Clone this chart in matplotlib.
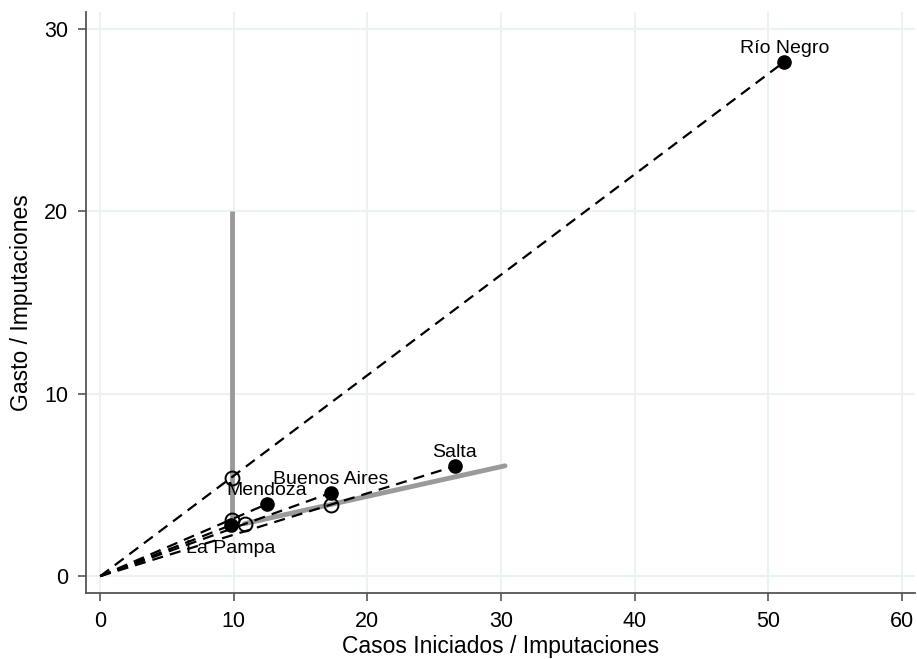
import matplotlib
matplotlib.use("Agg")
import matplotlib.pyplot as plt
import numpy as np

plt.rcParams['font.family'] = ['Liberation Sans', 'DejaVu Sans']

# provincias observadas (x = casos iniciados / imputaciones, y = gasto / imputaciones)
provincias = ['Río Negro', 'Salta', 'Buenos Aires', 'Mendoza', 'La Pampa']
casos = [51.2, 26.55, 17.28, 12.47, 9.8]
gasto = [28.2, 6.03, 4.57, 3.95, 2.8]
posicion = ['arriba', 'arriba', 'arriba', 'arriba', 'abajo']

# proyecciones sobre la frontera (circulos huecos)
proy_x = [9.87, 9.87, 10.8, 17.3]
proy_y = [5.38, 3.07, 2.85, 3.9]

# frontera (linea gris)
front_x = [9.87, 9.87]
front_y = [20.0, 2.95]
front2_x = [10.8, 30.3]
front2_y = [2.88, 6.05]

fig = plt.figure(figsize=(9.17, 6.59), dpi=100)
ax = fig.add_axes([0.094, 0.1, 0.904, 0.882])

ax.set_xlim(-1.05, 61)
ax.set_ylim(-0.93, 30.94)
ax.set_xticks(np.arange(0, 61, 10))
ax.set_yticks(np.arange(0, 31, 10))
ax.grid(True, color='#eaf2f3', linewidth=1.5)
ax.set_axisbelow(True)

for s in ['top', 'right']:
    ax.spines[s].set_visible(False)
for s in ['left', 'bottom']:
    ax.spines[s].set_color('#555555')
    ax.spines[s].set_linewidth(1.3)
ax.tick_params(axis='both', length=6, width=1.2, color='#555555',
               labelsize=15.5, pad=7)

# frontera
ax.plot(front_x, front_y, color='#9a9a9a', lw=3.5, solid_capstyle='butt', zorder=2)
ax.plot(front2_x, front2_y, color='#9a9a9a', lw=3.5, solid_capstyle='round', zorder=2)

# rayos desde el origen
for x, y in zip(casos, gasto):
    ax.plot([0, x], [0, y], color='black', lw=1.6, ls=(0, (5, 3.2)), zorder=3)

ax.plot(casos, gasto, 'o', color='black', ms=9.5, zorder=5)
ax.plot(proy_x, proy_y, 'o', mfc='none', mec='black', mew=1.4, ms=10, zorder=4)

for nombre, x, y, pos in zip(provincias, casos, gasto, posicion):
    if pos == 'arriba':
        ax.annotate(nombre, (x, y), xytext=(0, 3.5), textcoords='offset points',
                    ha='center', va='bottom', fontsize=14, zorder=6)
    else:
        ax.annotate(nombre, (x, y), xytext=(0, -11), textcoords='offset points',
                    ha='center', va='top', fontsize=14, zorder=6)

ax.set_xlabel('Casos Iniciados / Imputaciones', fontsize=16.5, labelpad=2)
ax.set_ylabel('Gasto / Imputaciones', fontsize=16.5, labelpad=8)

fig.savefig('out.png', dpi=100)
